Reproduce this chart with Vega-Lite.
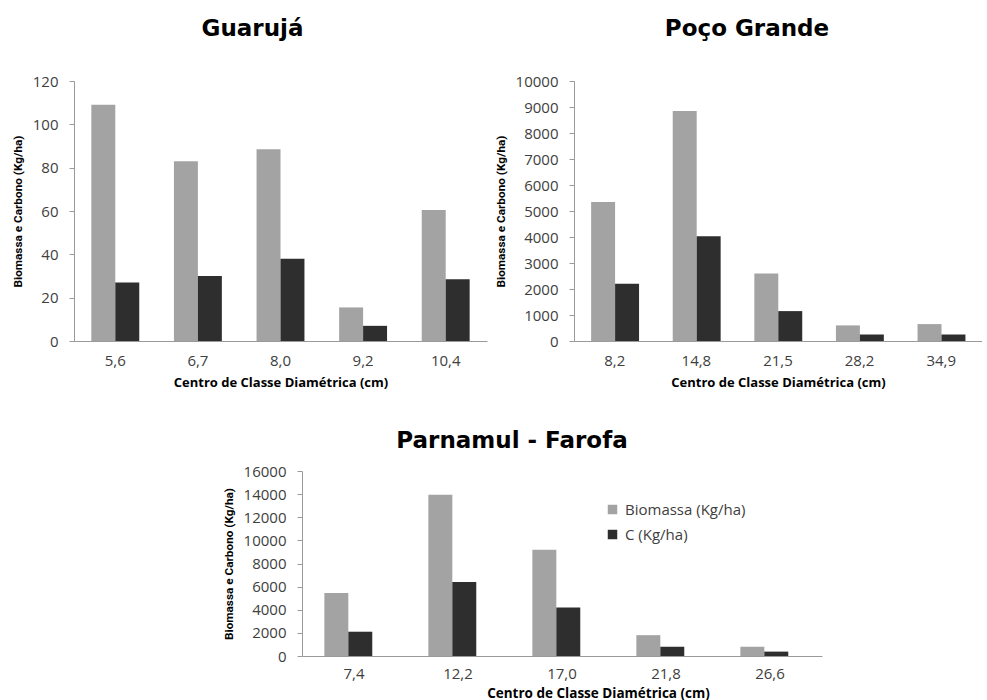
{
  "$schema": "https://vega.github.io/schema/vega-lite/v6.json",
  "background": "white",
  "padding": {"left": 12, "top": 18, "right": 0, "bottom": 0},
  "config": {
    "view": {"stroke": null},
    "axis": {
      "grid": false,
      "domainColor": "#9a9a9a",
      "tickColor": "#9a9a9a",
      "labelFont": "Open Sans",
      "labelFontSize": 15,
      "labelColor": "#404040",
      "titleColor": "#000000",
      "titleFontWeight": "bold"
    },
    "axisX": {
      "labelAngle": 0,
      "ticks": false,
      "labelPadding": 12,
      "titlePadding": 8,
      "titleFont": "Open Sans",
      "titleFontSize": 13
    },
    "axisY": {
      "tickSize": 5,
      "labelPadding": 11,
      "titlePadding": 9,
      "titleFont": "Roboto",
      "titleFontSize": 11.8,
      "format": "d"
    },
    "title": {"font": "DejaVu Sans", "fontSize": 23, "fontWeight": "bold", "color": "#000000", "frame": "group", "anchor": "middle"},
    "bar": {"stroke": null}
  },
  "datasets": {
    "guaruja": [
      {"classe": "5,6", "serie": "Biomassa (Kg/ha)", "valor": 109},
      {"classe": "5,6", "serie": "C (Kg/ha)", "valor": 27},
      {"classe": "6,7", "serie": "Biomassa (Kg/ha)", "valor": 83},
      {"classe": "6,7", "serie": "C (Kg/ha)", "valor": 30},
      {"classe": "8,0", "serie": "Biomassa (Kg/ha)", "valor": 88.5},
      {"classe": "8,0", "serie": "C (Kg/ha)", "valor": 38},
      {"classe": "9,2", "serie": "Biomassa (Kg/ha)", "valor": 15.5},
      {"classe": "9,2", "serie": "C (Kg/ha)", "valor": 7},
      {"classe": "10,4", "serie": "Biomassa (Kg/ha)", "valor": 60.5},
      {"classe": "10,4", "serie": "C (Kg/ha)", "valor": 28.5}
    ],
    "pocogrande": [
      {"classe": "8,2", "serie": "Biomassa (Kg/ha)", "valor": 5350},
      {"classe": "8,2", "serie": "C (Kg/ha)", "valor": 2200},
      {"classe": "14,8", "serie": "Biomassa (Kg/ha)", "valor": 8850},
      {"classe": "14,8", "serie": "C (Kg/ha)", "valor": 4030},
      {"classe": "21,5", "serie": "Biomassa (Kg/ha)", "valor": 2600},
      {"classe": "21,5", "serie": "C (Kg/ha)", "valor": 1150},
      {"classe": "28,2", "serie": "Biomassa (Kg/ha)", "valor": 600},
      {"classe": "28,2", "serie": "C (Kg/ha)", "valor": 250},
      {"classe": "34,9", "serie": "Biomassa (Kg/ha)", "valor": 650},
      {"classe": "34,9", "serie": "C (Kg/ha)", "valor": 250}
    ],
    "parnamul": [
      {"classe": "7,4", "serie": "Biomassa (Kg/ha)", "valor": 5450},
      {"classe": "7,4", "serie": "C (Kg/ha)", "valor": 2100},
      {"classe": "12,2", "serie": "Biomassa (Kg/ha)", "valor": 13950},
      {"classe": "12,2", "serie": "C (Kg/ha)", "valor": 6400},
      {"classe": "17,0", "serie": "Biomassa (Kg/ha)", "valor": 9200},
      {"classe": "17,0", "serie": "C (Kg/ha)", "valor": 4200},
      {"classe": "21,8", "serie": "Biomassa (Kg/ha)", "valor": 1800},
      {"classe": "21,8", "serie": "C (Kg/ha)", "valor": 800},
      {"classe": "26,6", "serie": "Biomassa (Kg/ha)", "valor": 800},
      {"classe": "26,6", "serie": "C (Kg/ha)", "valor": 380}
    ],
    "vazio": [{"v": 0}]
  },
  "align": "none",
  "spacing": 41,
  "resolve": {"scale": {"color": "independent"}, "legend": {"color": "independent"}},
  "vconcat": [
    {
      "align": "none",
      "spacing": 8,
      "resolve": {"scale": {"color": "independent"}, "legend": {"color": "independent"}},
      "hconcat": [
        {
          "width": 413,
          "height": 260,
          "title": {"text": "Guarujá", "dx": -28, "offset": 33},
          "data": {"name": "guaruja"},
          "mark": {"type": "bar"},
          "encoding": {
            "x": {"field": "classe", "type": "nominal", "sort": null, "title": "Centro de Classe Diamétrica (cm)", "scale": {"paddingInner": 0.42, "paddingOuter": 0.21}},
            "xOffset": {"field": "serie", "type": "nominal", "sort": ["Biomassa (Kg/ha)", "C (Kg/ha)"], "scale": {"paddingInner": 0}},
            "y": {"field": "valor", "type": "quantitative", "title": "Biomassa e Carbono (Kg/ha)", "scale": {"domain": [0, 120], "nice": false}, "axis": {"values": [0, 20, 40, 60, 80, 100, 120]}},
            "color": {"field": "serie", "type": "nominal", "scale": {"domain": ["Biomassa (Kg/ha)", "C (Kg/ha)"], "range": ["#a3a3a3", "#2e2e2e"]}, "legend": null}
          }
        },
        {
          "width": 408,
          "height": 260,
          "title": {"text": "Poço Grande", "dx": -31, "offset": 33},
          "data": {"name": "pocogrande"},
          "mark": {"type": "bar"},
          "encoding": {
            "x": {"field": "classe", "type": "nominal", "sort": null, "title": "Centro de Classe Diamétrica (cm)", "scale": {"paddingInner": 0.42, "paddingOuter": 0.21}},
            "xOffset": {"field": "serie", "type": "nominal", "sort": ["Biomassa (Kg/ha)", "C (Kg/ha)"], "scale": {"paddingInner": 0}},
            "y": {"field": "valor", "type": "quantitative", "title": "Biomassa e Carbono (Kg/ha)", "scale": {"domain": [0, 10000], "nice": false}, "axis": {"values": [0, 1000, 2000, 3000, 4000, 5000, 6000, 7000, 8000, 9000, 10000]}},
            "color": {"field": "serie", "type": "nominal", "scale": {"domain": ["Biomassa (Kg/ha)", "C (Kg/ha)"], "range": ["#a3a3a3", "#2e2e2e"]}, "legend": null}
          }
        }
      ]
    },
    {
      "align": "none",
      "spacing": 145,
      "resolve": {"scale": {"color": "independent"}, "legend": {"color": "independent"}},
      "hconcat": [
        {
          "width": 1,
          "height": 1,
          "data": {"name": "vazio"},
          "mark": {"type": "point", "opacity": 0},
          "encoding": {}
        },
        {
          "width": 520,
          "height": 185,
          "title": {"text": "Parnamul - Farofa", "dx": -50, "offset": 11},
          "data": {"name": "parnamul"},
          "mark": {"type": "bar"},
          "encoding": {
            "x": {"field": "classe", "type": "nominal", "sort": null, "title": "Centro de Classe Diamétrica (cm)", "scale": {"paddingInner": 0.43, "paddingOuter": 0.215}, "axis": {"titleX": 296, "titleFontSize": 13.5, "labelPadding": 10, "titlePadding": 5}},
            "xOffset": {"field": "serie", "type": "nominal", "sort": ["Biomassa (Kg/ha)", "C (Kg/ha)"], "scale": {"paddingInner": 0}},
            "y": {"field": "valor", "type": "quantitative", "title": "Biomassa e Carbono (Kg/ha)", "scale": {"domain": [0, 16000], "nice": false}, "axis": {"values": [0, 2000, 4000, 6000, 8000, 10000, 12000, 14000, 16000]}},
            "color": {
              "field": "serie", "type": "nominal",
              "scale": {"domain": ["Biomassa (Kg/ha)", "C (Kg/ha)"], "range": ["#a3a3a3", "#2e2e2e"]},
              "legend": {"title": null, "orient": "none", "legendX": 303, "legendY": 31, "symbolType": "square", "symbolSize": 90, "symbolStrokeWidth": 0, "labelFont": "Open Sans", "labelFontSize": 15, "labelColor": "#404040", "rowPadding": 9, "labelOffset": 5, "padding": 0}
            }
          }
        }
      ]
    }
  ]
}
